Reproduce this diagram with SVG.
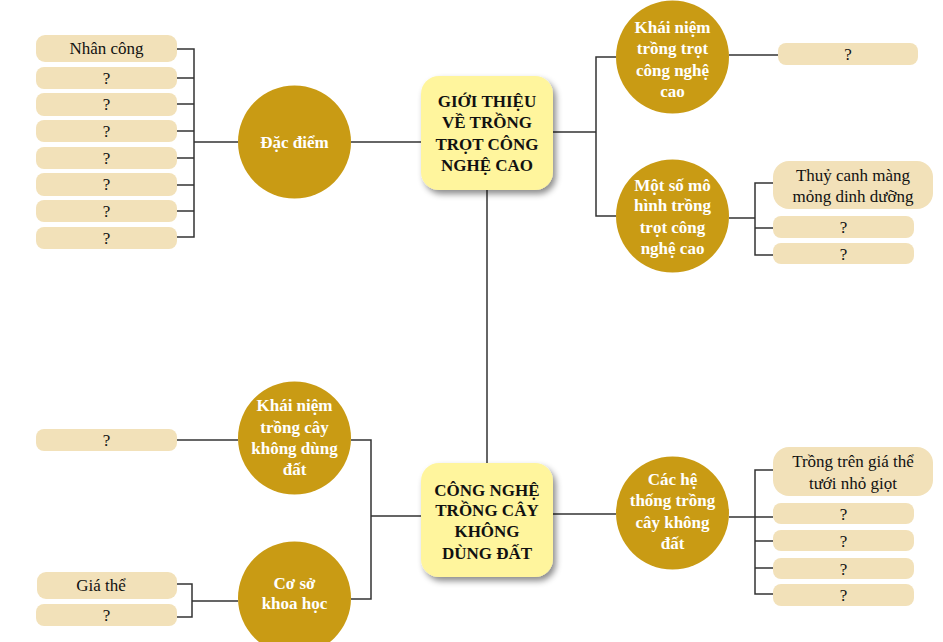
<svg xmlns="http://www.w3.org/2000/svg" width="943" height="642" viewBox="0 0 943 642">
<defs>
<filter id="sh" x="-20%" y="-20%" width="150%" height="150%">
<feDropShadow dx="3" dy="4" stdDeviation="3" flood-color="#000" flood-opacity="0.45"/>
</filter>
<style>
.ln{fill:none;stroke:#333;stroke-width:1.5}
.main{fill:#FFF59D;filter:url(#sh)}
.circ{fill:#C99B14}
.box{fill:#F2E1B9}
.mt{font-family:"Liberation Serif",serif;font-weight:bold;font-size:17px;fill:#111;text-anchor:middle}
.ct{font-family:"Liberation Serif",serif;font-weight:bold;font-size:17px;fill:#fff;text-anchor:middle}
.bt{font-family:"Liberation Serif",serif;font-size:17px;fill:#111;text-anchor:middle}
</style>
</defs>
<rect width="943" height="642" fill="#fff"/>
<g id="connectors">
<path class="ln" d="M487 190V463"/>
<path class="ln" d="M351 142H421"/>
<path class="ln" d="M238 142H194M177 49H194V237H177M177 78H194M177 104H194M177 131H194M177 158H194M177 185H194M177 211H194"/>
<path class="ln" d="M553 132H596M616 57H596V216H616"/>
<path class="ln" d="M729 55H778"/>
<path class="ln" d="M729 218H755M773 183H755V255H773M755 228H773"/>
<path class="ln" d="M421 516H371M351 440H371V599H351"/>
<path class="ln" d="M238 440H177"/>
<path class="ln" d="M238 601H192M177 584H192V617H177"/>
<path class="ln" d="M553 514H616"/>
<path class="ln" d="M729 517H755M773 470H755V594H773M755 541H773M755 568H773M755 517H773"/>
</g>
<g id="main1">
<rect class="main" x="421" y="76" width="132" height="114" rx="18"/>
<text class="mt" x="487" y="107">GIỚI THIỆU</text>
<text class="mt" x="487" y="128">VỀ TRỒNG</text>
<text class="mt" x="487" y="150">TRỌT CÔNG</text>
<text class="mt" x="487" y="171">NGHỆ CAO</text>
</g>
<g id="main2">
<rect class="main" x="421" y="463" width="132" height="114" rx="18"/>
<text class="mt" x="487" y="496">CÔNG NGHỆ</text>
<text class="mt" x="487" y="516">TRỒNG CÂY</text>
<text class="mt" x="487" y="537">KHÔNG</text>
<text class="mt" x="487" y="559">DÙNG ĐẤT</text>
</g>
<g id="dac-diem">
<circle class="circ" cx="294.5" cy="142" r="56.5"/>
<text class="ct" x="294.5" y="148">Đặc điểm</text>
</g>
<g id="khai-niem-1">
<circle class="circ" cx="672.5" cy="57" r="56.5"/>
<text class="ct" x="672.5" y="33">Khái niệm</text>
<text class="ct" x="672.5" y="54">trồng trọt</text>
<text class="ct" x="672.5" y="76">công nghệ</text>
<text class="ct" x="672.5" y="97">cao</text>
</g>
<g id="mot-so-mo-hinh">
<circle class="circ" cx="672.5" cy="216" r="56.5"/>
<text class="ct" x="672.5" y="191">Một số mô</text>
<text class="ct" x="672.5" y="211">hình trồng</text>
<text class="ct" x="672.5" y="233">trọt công</text>
<text class="ct" x="672.5" y="254">nghệ cao</text>
</g>
<g id="khai-niem-2">
<circle class="circ" cx="294.5" cy="438" r="56.5"/>
<text class="ct" x="294.5" y="411">Khái niệm</text>
<text class="ct" x="294.5" y="433">trồng cây</text>
<text class="ct" x="294.5" y="454">không dùng</text>
<text class="ct" x="294.5" y="475">đất</text>
</g>
<g id="co-so">
<circle class="circ" cx="294.5" cy="598" r="56.5"/>
<text class="ct" x="294.5" y="589">Cơ sở</text>
<text class="ct" x="294.5" y="609">khoa học</text>
</g>
<g id="cac-he-thong">
<circle class="circ" cx="672.5" cy="513" r="56.5"/>
<text class="ct" x="672.5" y="485">Các hệ</text>
<text class="ct" x="672.5" y="506">thống trồng</text>
<text class="ct" x="672.5" y="528">cây không</text>
<text class="ct" x="672.5" y="549">đất</text>
</g>
<g id="box-l1"><rect class="box" x="36" y="35" width="141" height="27" rx="9"/><text class="bt" x="106.5" y="54">Nhân công</text></g>
<g id="box-l2"><rect class="box" x="36" y="67" width="141" height="22" rx="8"/><text class="bt" x="106.5" y="84">?</text></g>
<g id="box-l3"><rect class="box" x="36" y="93" width="141" height="23" rx="8"/><text class="bt" x="106.5" y="110">?</text></g>
<g id="box-l4"><rect class="box" x="36" y="120" width="141" height="22" rx="8"/><text class="bt" x="106.5" y="137">?</text></g>
<g id="box-l5"><rect class="box" x="36" y="147" width="141" height="22" rx="8"/><text class="bt" x="106.5" y="164">?</text></g>
<g id="box-l6"><rect class="box" x="36" y="173" width="141" height="23" rx="8"/><text class="bt" x="106.5" y="190">?</text></g>
<g id="box-l7"><rect class="box" x="36" y="200" width="141" height="22" rx="8"/><text class="bt" x="106.5" y="217">?</text></g>
<g id="box-l8"><rect class="box" x="36" y="227" width="141" height="22" rx="8"/><text class="bt" x="106.5" y="244">?</text></g>
<g id="box-r1"><rect class="box" x="778" y="43" width="140" height="22" rx="8"/><text class="bt" x="848" y="60">?</text></g>
<g id="box-r2"><rect class="box" x="773" y="161" width="160" height="48" rx="16"/><text class="bt" x="853" y="181">Thuỷ canh màng</text><text class="bt" x="853" y="202">mỏng dinh dưỡng</text></g>
<g id="box-r3"><rect class="box" x="773" y="216" width="141" height="22" rx="8"/><text class="bt" x="843.5" y="233">?</text></g>
<g id="box-r4"><rect class="box" x="773" y="243" width="141" height="21" rx="8"/><text class="bt" x="843.5" y="260">?</text></g>
<g id="box-l9"><rect class="box" x="36" y="429" width="141" height="22" rx="8"/><text class="bt" x="106.5" y="446">?</text></g>
<g id="box-l10"><rect class="box" x="37" y="572" width="140" height="27" rx="9"/><text class="bt" x="101" y="591">Giá thể</text></g>
<g id="box-l11"><rect class="box" x="36" y="604" width="141" height="22" rx="8"/><text class="bt" x="106.5" y="621">?</text></g>
<g id="box-r5"><rect class="box" x="773" y="447" width="160" height="49" rx="16"/><text class="bt" x="853" y="467">Trồng trên giá thể</text><text class="bt" x="853" y="489">tưới nhỏ giọt</text></g>
<g id="box-r6"><rect class="box" x="773" y="503" width="141" height="21" rx="8"/><text class="bt" x="843.5" y="520">?</text></g>
<g id="box-r7"><rect class="box" x="773" y="530" width="141" height="21" rx="8"/><text class="bt" x="843.5" y="547">?</text></g>
<g id="box-r8"><rect class="box" x="773" y="558" width="141" height="21" rx="8"/><text class="bt" x="843.5" y="575">?</text></g>
<g id="box-r9"><rect class="box" x="773" y="584" width="141" height="22" rx="8"/><text class="bt" x="843.5" y="601">?</text></g>
</svg>
